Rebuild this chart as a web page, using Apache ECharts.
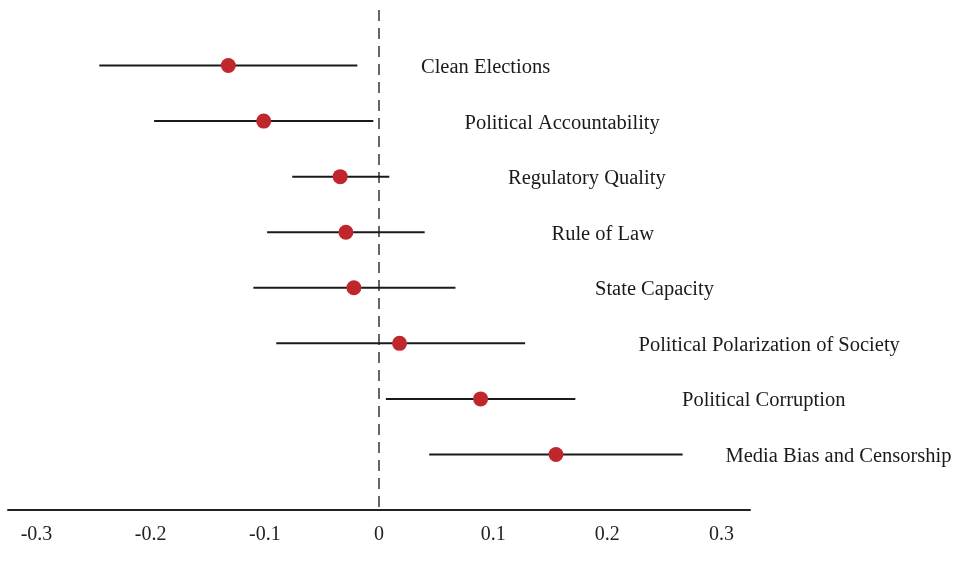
<!DOCTYPE html>
<html>
<head>
<meta charset="utf-8">
<script src="https://cdn.jsdelivr.net/npm/echarts@6/dist/echarts.min.js"></script>
<style>html,body{margin:0;padding:0;background:#fff}#c{width:972px;height:578px}</style>
</head>
<body>
<div id="c"></div>
<script>
const categories = ["Clean Elections","Political Accountability","Regulatory Quality","Rule of Law","State Capacity","Political Polarization of Society","Political Corruption","Media Bias and Censorship"];
const estimates = [-0.132,-0.101,-0.034,-0.029,-0.022,0.018,0.089,0.155];
const lowerCI = [-0.245,-0.197,-0.076,-0.098,-0.110,-0.090,0.006,0.044];
const upperCI = [-0.019,-0.005,0.009,0.040,0.067,0.128,0.172,0.266];
const xTicks = [-0.3,-0.2,-0.1,0,0.1,0.2,0.3];

const font = '"Liberation Serif","DejaVu Serif",serif';
const chart = echarts.init(document.getElementById('c'));
const rows = categories.map((c,i)=>[lowerCI[i],upperCI[i],i,estimates[i],c]);
chart.setOption({
  animation:false,
  grid:{left:8,right:222,top:10,bottom:68},
  xAxis:{type:'value',min:-0.325,max:0.325,
    axisLine:{show:true,onZero:false,lineStyle:{color:'#222',width:2}},
    axisTick:{show:false},splitLine:{show:false},
    axisLabel:{margin:15,fontFamily:font,fontSize:20,color:'#222',
      customValues:xTicks,formatter:v=>String(Math.round(v*10)/10)}},
  yAxis:{type:'value',min:-1,max:8,inverse:true,show:false},
  series:[
    {type:'line',data:[[0,-1],[0,8]],symbol:'none',silent:true,
      lineStyle:{color:'#666',width:2,type:[11,7]},z:1},
    {type:'custom',data:rows,z:2,
      renderItem:(p,api)=>{
        const a=api.coord([api.value(0),api.value(2)]);
        const b=api.coord([api.value(1),api.value(2)]);
        return {type:'line',shape:{x1:a[0],y1:a[1],x2:b[0],y2:b[1]},style:{stroke:'#1a1a1a',lineWidth:2}};
      }},
    {type:'custom',data:rows,z:2,
      renderItem:(p,api)=>{
        const i=api.value(2);
        const o=api.coord([0,i]);
        return {type:'text',style:{text:categories[i],x:o[0]+42+i*43.5,y:o[1]+2,
          fontFamily:font,fontSize:20.5,fill:'#1a1a1a',verticalAlign:'middle',align:'left'}};
      }},
    {type:'scatter',data:estimates.map((v,i)=>[v,i]),symbol:'circle',symbolSize:15,
      itemStyle:{color:'#c0272d',opacity:1},z:3}
  ]
});
</script>
</body>
</html>
